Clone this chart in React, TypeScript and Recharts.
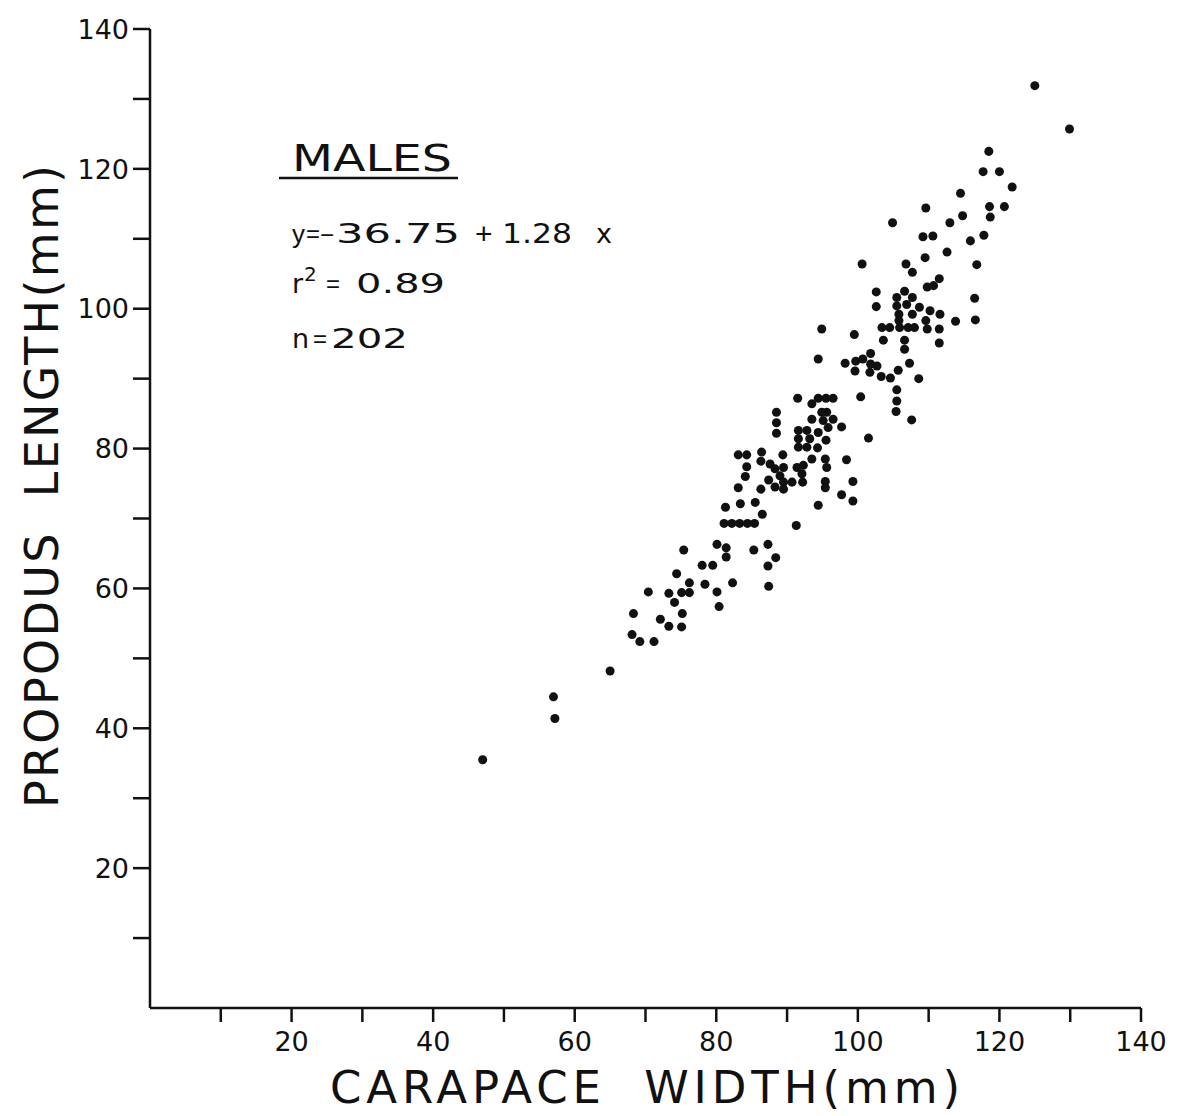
import React from 'react';
import { ScatterChart, Scatter, XAxis, YAxis, ZAxis } from 'recharts';

// Carapace width (mm) of each male crab
const carapaceWidth = [
  47.0, 57.0, 57.2, 65.0, 68.1, 69.2, 71.2, 68.3, 72.1, 75.2,
  73.3, 75.1, 74.1, 80.4, 70.4, 73.3, 75.1, 76.2, 80.1, 74.4,
  76.2, 78.4, 82.3, 75.4, 78.0, 79.5, 80.1, 81.4, 81.4, 85.3,
  87.3, 88.4, 87.3, 87.4, 81.1, 82.2, 83.3, 84.4, 85.4, 86.5,
  91.3, 81.3, 83.4, 85.5, 94.4, 83.1, 86.3, 88.3, 89.5, 97.7,
  99.3, 84.1, 87.4, 89.0, 89.5, 90.7, 92.1, 92.2, 95.4, 95.4,
  99.3, 84.3, 86.3, 87.6, 88.3, 89.5, 91.4, 92.3, 95.6, 83.1,
  84.3, 86.4, 89.4, 93.5, 95.4, 98.4, 91.6, 92.8, 94.3, 91.6,
  93.2, 95.5, 91.6, 92.8, 94.4, 95.8, 97.7, 88.5, 88.5, 88.5,
  93.5, 95.1, 96.5, 93.5, 94.9, 95.6, 91.5, 94.4, 95.5, 96.5,
  94.4, 94.9, 101.5, 107.6, 105.4, 105.5, 105.5, 100.4, 103.3, 104.6,
  105.7, 108.6, 99.6, 101.7, 98.2, 99.7, 100.7, 101.8, 102.7, 107.3,
  101.8, 106.6, 103.6, 106.6, 111.5, 99.5, 103.4, 104.5, 105.9, 107.1,
  108.0, 109.8, 111.5, 105.8, 109.6, 113.8, 116.6, 105.8, 107.7, 111.6,
  110.2, 102.6, 105.5, 106.9, 108.7, 105.5, 107.7, 116.5, 102.6, 106.6,
  109.8, 110.7, 111.5, 107.7, 100.6, 106.8, 116.8, 109.5, 112.6, 109.2,
  110.6, 104.9, 109.6, 113.0, 115.9, 117.8, 114.8, 118.7, 118.6, 120.7,
  114.5, 121.8, 117.7, 120.0, 118.5, 125.0, 129.9,
];

// Propodus length (mm), same order as carapaceWidth
const propodusLength = [
  35.5, 44.5, 41.4, 48.2, 53.4, 52.4, 52.4, 56.4, 55.6, 56.4,
  54.6, 54.5, 58.0, 57.4, 59.5, 59.3, 59.4, 59.4, 59.5, 62.1,
  60.8, 60.6, 60.8, 65.5, 63.3, 63.3, 66.3, 65.8, 64.5, 65.5,
  66.3, 64.4, 63.2, 60.3, 69.3, 69.3, 69.3, 69.3, 69.3, 70.6,
  69.0, 71.6, 72.1, 72.3, 71.9, 74.4, 74.2, 74.5, 74.2, 73.4,
  72.5, 76.0, 75.5, 76.1, 75.2, 75.2, 76.4, 75.2, 75.3, 74.4,
  75.3, 77.4, 78.2, 77.8, 77.1, 77.3, 77.3, 77.6, 77.3, 79.1,
  79.1, 79.5, 79.1, 78.5, 78.5, 78.4, 80.2, 80.2, 80.1, 81.4,
  81.4, 81.2, 82.6, 82.6, 82.3, 83.0, 83.1, 85.2, 83.7, 82.2,
  84.2, 84.0, 84.2, 86.4, 85.2, 85.2, 87.2, 87.2, 87.2, 87.2,
  92.8, 97.1, 81.5, 84.1, 85.3, 86.8, 88.4, 87.4, 90.3, 90.1,
  91.2, 90.0, 91.1, 90.9, 92.2, 92.5, 92.8, 92.1, 91.8, 92.2,
  93.6, 94.2, 95.5, 95.5, 95.1, 96.3, 97.3, 97.3, 97.3, 97.3,
  97.3, 97.1, 97.1, 98.3, 98.3, 98.2, 98.4, 99.2, 99.2, 99.2,
  99.7, 100.3, 100.4, 100.6, 100.2, 101.6, 101.6, 101.5, 102.4, 102.5,
  103.1, 103.3, 104.3, 105.2, 106.4, 106.4, 106.3, 107.3, 108.1, 110.3,
  110.4, 112.3, 114.4, 112.3, 109.7, 110.5, 113.3, 113.1, 114.6, 114.6,
  116.5, 117.4, 119.6, 119.6, 122.5, 131.9, 125.7,
];

const xTicks = [10, 20, 30, 40, 50, 60, 70, 80, 90, 100, 110, 120, 130, 140];
const yTicks = [10, 20, 30, 40, 50, 60, 70, 80, 90, 100, 110, 120, 130, 140];
const labelledTicks = [20, 40, 60, 80, 100, 120, 140];

const xTitle = 'CARAPACE\u00A0\u00A0WIDTH(mm)';
const yTitle = 'PROPODUS\u00A0\u00A0LENGTH(mm)';
const groupTitle = 'MALES';

const data = carapaceWidth.map((x, i) => ({ x, y: propodusLength[i] }));

const FONT = '"DejaVu Sans", "Liberation Sans", sans-serif';
const NARROW = '"Liberation Sans", Arial, sans-serif';
const INK = '#111';

const XTick = (props: any) => {
  const { x, y, payload } = props;
  if (!labelledTicks.includes(payload.value)) return null;
  return (
    <text x={x} y={y} dy="0.71em" textAnchor="middle" fontFamily={FONT} fontSize={27} fill={INK}>
      {payload.value}
    </text>
  );
};

const YTick = (props: any) => {
  const { x, y, payload } = props;
  if (!labelledTicks.includes(payload.value)) return null;
  return (
    <text x={x} y={y} dy="0.36em" textAnchor="end" fontFamily={FONT} fontSize={27} fill={INK}>
      {payload.value}
    </text>
  );
};

const Seg = ({ x, y, w, size = 28, font = FONT, children }: any) => (
  <text
    x={x}
    y={y}
    fontFamily={font}
    fontSize={size}
    fill={INK}
    {...(w ? { textLength: w, lengthAdjust: 'spacingAndGlyphs' } : {})}
  >
    {children}
  </text>
);

export default function App() {
  return (
    <div style={{ position: 'absolute', left: 0, top: 0, width: 1179, height: 1116, background: '#fff' }}>
      <ScatterChart width={1179} height={1116} margin={{ top: 29, right: 38, bottom: 0, left: 0 }}>
        <XAxis
          type="number"
          dataKey="x"
          domain={[0, 140]}
          ticks={xTicks}
          interval={0}
          height={108}
          tickSize={14}
          tickMargin={10}
          tick={<XTick />}
          axisLine={{ stroke: INK, strokeWidth: 2.5 }}
          tickLine={{ stroke: INK, strokeWidth: 2.5 }}
          allowDataOverflow
        />
        <YAxis
          type="number"
          dataKey="y"
          domain={[0, 140]}
          ticks={yTicks}
          interval={0}
          width={150}
          tickSize={17}
          tickMargin={4}
          tick={<YTick />}
          axisLine={{ stroke: INK, strokeWidth: 2.5 }}
          tickLine={{ stroke: INK, strokeWidth: 2.5 }}
          allowDataOverflow
        />
        <ZAxis range={[62, 62]} />
        <Scatter data={data} fill={INK} shape="circle" isAnimationActive={false} />
      </ScatterChart>
      <svg
        width={1179}
        height={1116}
        style={{ position: 'absolute', left: 0, top: 0, pointerEvents: 'none' }}
      >
        <text
          x={0}
          y={0}
          transform="translate(58 808) rotate(-90)"
          fontFamily={FONT}
          fontSize={46}
          fill={INK}
          textLength={643}
          lengthAdjust="spacing"
        >
          {yTitle}
        </text>
        <text
          x={330}
          y={1103}
          fontFamily={FONT}
          fontSize={45}
          fill={INK}
          textLength={630}
          lengthAdjust="spacing"
        >
          {xTitle}
        </text>
        <Seg x={292} y={171} w={160} size={38}>{groupTitle}</Seg>
        <line x1={279} y1={178} x2={458} y2={178} stroke={INK} strokeWidth={2.5} />

        <Seg x={292} y={243} size={26} font={NARROW}>y</Seg>
        <Seg x={306} y={242} size={24} font={NARROW}>=</Seg>
        <Seg x={320} y={243} size={24} font={NARROW}>−</Seg>
        <Seg x={336} y={243} w={124} size={26}>36.75</Seg>
        <Seg x={475} y={244} size={30} font={NARROW}>+</Seg>
        <Seg x={502} y={243} w={70} size={26}>1.28</Seg>
        <Seg x={596} y={243} size={27}>x</Seg>

        <Seg x={292} y={293} size={27}>r</Seg>
        <Seg x={304} y={281} size={20}>2</Seg>
        <Seg x={326} y={292} size={24} font={NARROW}>=</Seg>
        <Seg x={356} y={293} w={89} size={26}>0.89</Seg>

        <Seg x={292} y={348} size={27}>n</Seg>
        <Seg x={313} y={347} size={24} font={NARROW}>=</Seg>
        <Seg x={331} y={348} w={77} size={26}>202</Seg>
      </svg>
    </div>
  );
}
